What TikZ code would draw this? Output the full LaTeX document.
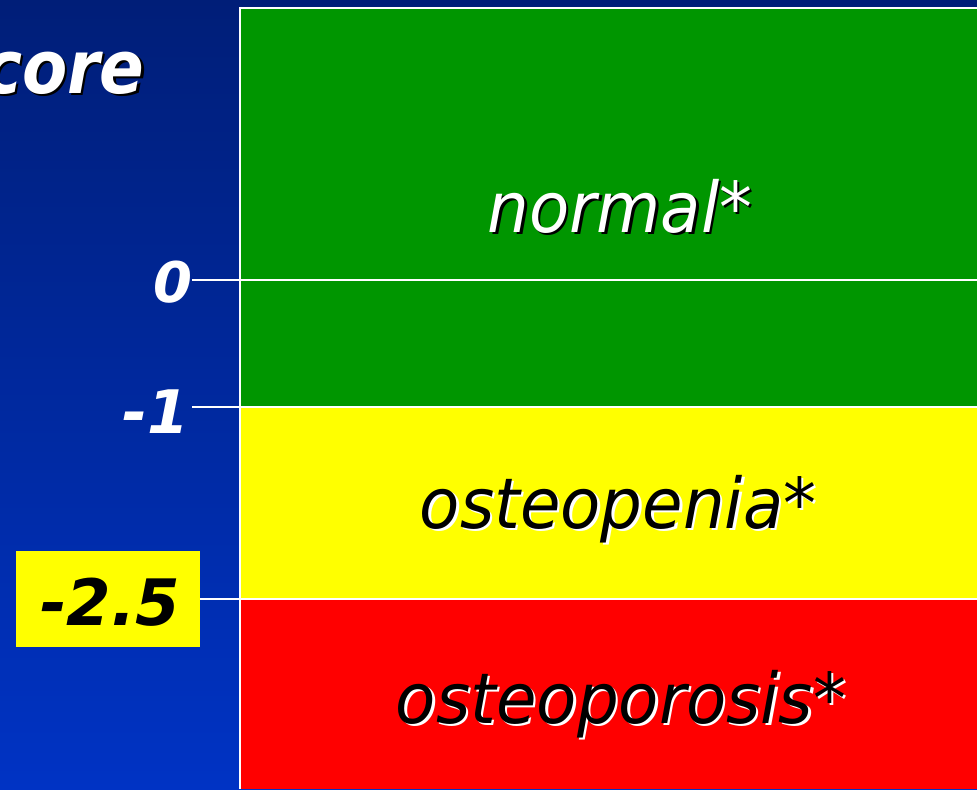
\documentclass[tikz,border=0pt]{standalone}
\usepackage{fontspec}
\setmainfont{DejaVu Sans}[FakeStretch=0.94]
\newfontfamily\titlefont{DejaVu Sans}[FakeStretch=0.89]
\newfontfamily\scorefont{DejaVu Sans}
\usepackage{tikz}
\usetikzlibrary{positioning}
\definecolor{slidetop}{RGB}{0,30,120}
\definecolor{slidebottom}{RGB}{0,51,196}
\definecolor{normalgreen}{RGB}{0,150,0}
\definecolor{peniayellow}{RGB}{255,255,0}
\definecolor{porosisred}{RGB}{255,0,0}

\begin{document}
\begin{tikzpicture}[
  x=0.5pt, y=-0.5pt,
  bandlabel/.style={font=\fontsize{35}{35}\selectfont\itshape, anchor=base, inner sep=0pt},
  scorelabel/.style={anchor=base east, inner sep=0pt},
  shadow/.style={xshift=1.25pt, yshift=-1.25pt},
  tick/.style={draw=white, line width=1pt}
]
\useasboundingbox (0,0) rectangle (977,789);
\clip (0,0) rectangle (977,789);
\shade[top color=slidetop, bottom color=slidebottom] (0,0) rectangle (977,789);
% bands
\fill[normalgreen] (240,8) rectangle (977,407);
\fill[peniayellow] (240,407) rectangle (977,599);
\fill[porosisred] (240,599) rectangle (977,789);
\draw[tick] (977,8) -- (240,8) -- (240,789);
% title
\node[scorelabel, font=\titlefont\fontsize{37}{37}\selectfont\bfseries\itshape, black, shadow] (titleshadow) at (145,93) {core};
\node[scorelabel, font=\titlefont\fontsize{37}{37}\selectfont\bfseries\itshape, white] (title) at (145,93) {core};
% score marks
\node[scorelabel, font=\scorefont\fontsize{28}{28}\selectfont\bfseries\itshape, white] (zero) at (193,302) {0};
\node[scorelabel, font=\scorefont\fontsize{30}{30}\selectfont\bfseries\itshape, white] (minusone) at (190,433) {-1};
\node[draw=none, fill=peniayellow, minimum width=92pt, minimum height=48pt, inner sep=0pt] (cutbox) at (108,599) {};
\node[font=\scorefont\fontsize{32}{32}\selectfont\bfseries\itshape, black, anchor=base, inner sep=0pt] (cutoff) at (110,625) {-2.5};
\draw[tick] (192,280) -- (977,280);
\draw[tick] (192,407) -- (977,407);
\draw[tick] (cutbox.east) -- (977,599);
% band names
\node[bandlabel, black, shadow] (normalshadow) at (620,232) {normal*};
\node[bandlabel, white] (normal) at (620,232) {normal*};
\node[bandlabel, white, shadow] (peniashadow) at (618,528) {osteopenia*};
\node[bandlabel, black] (penia) at (618,528) {osteopenia*};
\node[bandlabel, white, shadow] (porosisshadow) at (621,723) {osteoporosis*};
\node[bandlabel, black] (porosis) at (621,723) {osteoporosis*};
\end{tikzpicture}
\end{document}
